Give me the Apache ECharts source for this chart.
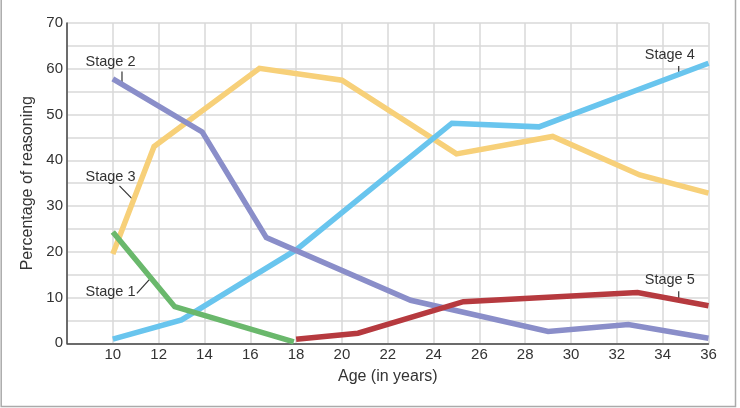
<!DOCTYPE html>
<html><head><meta charset="utf-8">
<script src="https://cdn.jsdelivr.net/npm/echarts@6/dist/echarts.min.js"></script>
<style>html,body{margin:0;padding:0;background:#fff}#c{width:740px;height:408px}</style>
</head><body><div id="c"></div>
<script>
// ---- data ----
const stage1Age = [10, 12.7, 17.9];
const stage1Pct = [24.3, 8, 0.3];
const stage2Age = [10, 13.9, 16.7, 23, 29, 32.5, 36];
const stage2Pct = [57.8, 46.2, 23.1, 9.4, 2.6, 4.1, 1.1];
const stage3Age = [10, 11.8, 16.4, 20, 25, 29.2, 33, 36];
const stage3Pct = [19.5, 43, 60.1, 57.5, 41.4, 45.2, 36.8, 32.8];
const stage4Age = [10, 13, 18, 24.8, 28.6, 36];
const stage4Pct = [0.9, 5.1, 20.4, 48.1, 47.3, 61.2];
const stage5Age = [18, 20.7, 25.3, 32.9, 36];
const stage5Pct = [0.9, 2.2, 9.1, 11.1, 8.2];
const stageNames = ['Stage 1', 'Stage 2', 'Stage 3', 'Stage 4', 'Stage 5'];
const xTicks = [10, 12, 14, 16, 18, 20, 22, 24, 26, 28, 30, 32, 34, 36];
const yTicks = [0, 10, 20, 30, 40, 50, 60, 70];
const xTitle = 'Age (in years)';
const yTitle = 'Percentage of reasoning';

const FONT = 'Liberation Sans';
const colors = ['#6ab86c', '#8a8ec9', '#f7d079', '#69c5ee', '#b63a3f'];
const ages = [stage1Age, stage2Age, stage3Age, stage4Age, stage5Age];
const pcts = [stage1Pct, stage2Pct, stage3Pct, stage4Pct, stage5Pct];
const drawOrder = [2, 3, 1, 0, 4];

const chart = echarts.init(document.getElementById('c'), null, {renderer: 'canvas'});

const series = drawOrder.map(i => ({
  name: stageNames[i],
  type: 'line',
  data: ages[i].map((a, k) => [a, pcts[i][k]]),
  showSymbol: false,
  symbol: 'none',
  lineStyle: {color: colors[i], width: 5.5, join: 'miter', cap: 'butt'},
  itemStyle: {color: colors[i]},
  silent: true,
  animation: false
}));

chart.setOption({
  animation: false,
  backgroundColor: '#fff',
  grid: {left: 67, right: 31.5, top: 23, bottom: 64.7},
  xAxis: {
    type: 'value', min: 8, max: 36, interval: 2,
    name: xTitle, nameLocation: 'middle', nameGap: 25,
    nameTextStyle: {fontFamily: FONT, fontSize: 16, color: '#333'},
    axisLine: {show: true, lineStyle: {color: '#444', width: 1.5}},
    axisTick: {show: false},
    axisLabel: {fontFamily: FONT, fontSize: 15, color: '#333', margin: 4,
      formatter: v => xTicks.indexOf(v) >= 0 ? String(v) : ''},
    splitLine: {show: true, lineStyle: {color: '#d8d8d8', width: 1.5}}
  },
  yAxis: {
    type: 'value', min: 0, max: 70, interval: 5,
    name: yTitle, nameLocation: 'middle', nameGap: 31,
    nameTextStyle: {fontFamily: FONT, fontSize: 16, color: '#333'},
    axisLine: {show: true, lineStyle: {color: '#444', width: 1.5}},
    axisTick: {show: false},
    axisLabel: {fontFamily: FONT, fontSize: 15, color: '#333', margin: 4,
      formatter: v => yTicks.indexOf(v) >= 0 ? String(v) : ''},
    splitLine: {show: true, lineStyle: {color: '#d8d8d8', width: 1.5}}
  },
  series: series
});

// annotations, anchored in data coordinates
const annotations = [
  {text: 'Stage 2', at: [9.9, 61.5], leader: [[10.4, 59.4], [10.4, 56.6]]},
  {text: 'Stage 3', at: [9.9, 36.4], leader: [[10.29, 34.4], [10.9, 31.3]]},
  {text: 'Stage 1', at: [9.9, 11.3], leader: [[11.05, 10.9], [11.68, 14.4]]},
  {text: 'Stage 4', at: [34.31, 63.0], leader: [[34.7, 60.6], [34.7, 59.0]]},
  {text: 'Stage 5', at: [34.31, 13.8], leader: [[34.7, 11.4], [34.7, 9.6]]}
];
const px = p => chart.convertToPixel({gridIndex: 0}, p);
const graphics = [];
annotations.forEach(a => {
  const t = px(a.at);
  const l0 = px(a.leader[0]), l1 = px(a.leader[1]);
  graphics.push({type: 'text', x: t[0], y: t[1], silent: true,
    style: {text: a.text, fontFamily: FONT, fontSize: 14.5, fill: '#333', align: 'center', verticalAlign: 'middle'}});
  graphics.push({type: 'line', silent: true,
    shape: {x1: l0[0], y1: l0[1], x2: l1[0], y2: l1[1]},
    style: {stroke: '#333', lineWidth: 1.2}});
});
graphics.push({type: 'rect', silent: true, z: 100,
  shape: {x: 1.2, y: -5, width: 734.3, height: 411.5},
  style: {fill: 'none', stroke: '#aaaaaa', lineWidth: 1.5}});
chart.setOption({graphic: graphics});
</script>
</body></html>
